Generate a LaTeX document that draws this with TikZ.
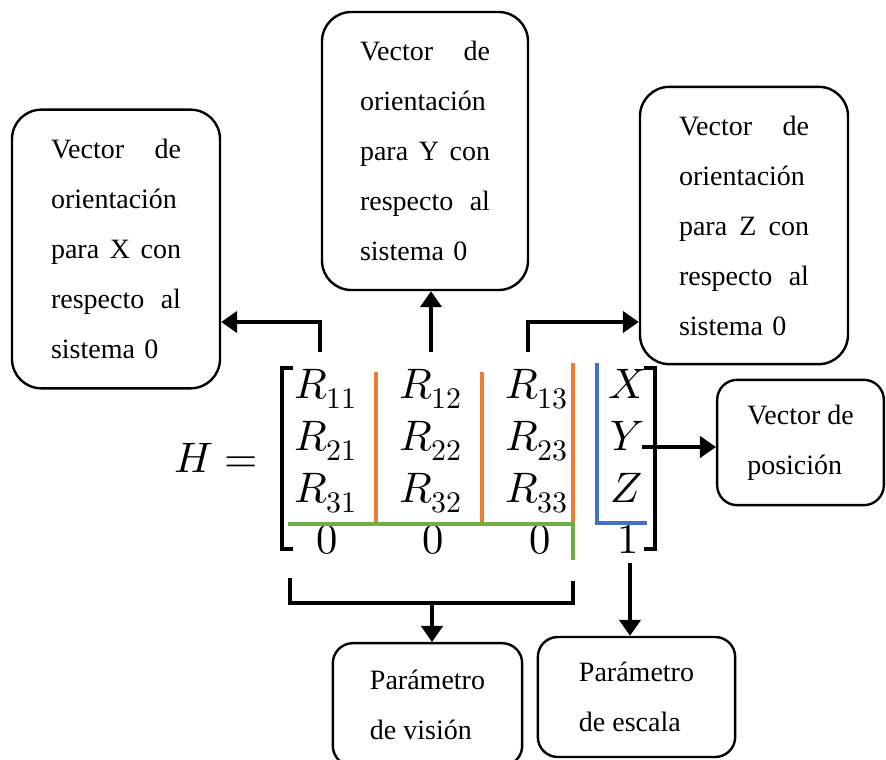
\documentclass[tikz,border=0pt]{standalone}
\usepackage{unicode-math}
\setmainfont{Liberation Serif}
\setmathfont{latinmodern-math.otf}
\usepackage{tikz}
\usetikzlibrary{arrows.meta, positioning, calc}
\definecolor{sepor}{HTML}{ED7D31}
\definecolor{sepgr}{HTML}{70AD47}
\definecolor{sepbl}{HTML}{4472C4}
\newcommand\boxfont{\fontsize{21}{37.5}\selectfont}
\newcommand\matfont{\fontsize{32}{36}\selectfont}
\tikzset{
  >=Latex,
  infobox/.style={
    draw, line width=1.8pt, rounded corners=#1, align=left,
    inner sep=0pt, font=\boxfont
  },
  infobox/.default=22pt,
  entry/.style={anchor=base, inner sep=0pt, font=\matfont},
  arr/.style={-{Triangle[length=12pt,width=16pt]}, line width=2.6pt},
  brk/.style={line width=2.4pt},
  sepline/.style={line width=2.8pt, draw=#1}
}

\begin{document}
\begin{tikzpicture}[x=0.75pt,y=-0.75pt]
  \useasboundingbox (0,0) rectangle (886,760);

  % cajas de texto
  \node[infobox, minimum width=156pt, minimum height=209pt, text width=97.5pt] (vecX) at (116,249)
    {Vector\hfill de\\ orientación\\ para\hfill X\hfill con\\ respecto\hfill al\\ sistema 0};
  \node[infobox, minimum width=154.5pt, minimum height=208.5pt, text width=97.5pt] (vecY) at (425,151)
    {Vector\hfill de\\ orientación\\ para\hfill Y\hfill con\\ respecto\hfill al\\ sistema 0};
  \node[infobox, minimum width=156pt, minimum height=208pt, text width=97.5pt] (vecZ) at (744,225.5)
    {Vector\hfill de\\ orientación\\ para\hfill Z\hfill con\\ respecto\hfill al\\ sistema 0};
  \node[infobox=15pt, minimum width=125pt, minimum height=94pt] (vecP) at (800.5,442.5)
    {Vector de\\ posición};
  \node[infobox=15pt, minimum width=142pt, minimum height=92pt] (parV) at (427.5,704.5)
    {Parámetro\\ de visión};
  \node[infobox=15pt, minimum width=148pt, minimum height=90pt] (parE) at (636.5,697)
    {Parámetro\\ de escala};

  % matriz H
  \node[entry] (lhs) at (216,472) {$H =$};
  \node[entry] (r11) at (326,398) {$R_{11}$};
  \node[entry] (r12) at (431,398) {$R_{12}$};
  \node[entry] (r13) at (537,398) {$R_{13}$};
  \node[entry] (px)  at (627,398) {$X$};
  \node[entry] (r21) at (326,450) {$R_{21}$};
  \node[entry] (r22) at (431,450) {$R_{22}$};
  \node[entry] (r23) at (537,450) {$R_{23}$};
  \node[entry] (py)  at (627,450) {$Y$};
  \node[entry] (r31) at (326,502) {$R_{31}$};
  \node[entry] (r32) at (431,502) {$R_{32}$};
  \node[entry] (r33) at (537,502) {$R_{33}$};
  \node[entry] (pz)  at (627,502) {$Z$};
  \node[entry] (z1)  at (327,553) {$0$};
  \node[entry] (z2)  at (433,553) {$0$};
  \node[entry] (z3)  at (540,553) {$0$};
  \node[entry] (one) at (628,553) {$1$};

  \draw[brk] (293,368) -- (282,368) -- (282,549) -- (293,549);
  \draw[brk] (644,368) -- (655,368) -- (655,549) -- (644,549);

  % separadores de color
  \draw[sepline=sepor] (376,372) -- (376,522);
  \draw[sepline=sepor] (482,372) -- (482,522);
  \draw[sepline=sepor] (573,363) -- (573,524);
  \draw[sepline=sepgr] (288,524) -- (573,524) -- (573,560);
  \draw[sepline=sepbl] (597,363) -- (597,523) -- (647,523);

  % flechas
  \coordinate (c1) at (320,352);
  \coordinate (c2) at (431,352);
  \coordinate (c3) at (528,352);
  \coordinate (yout) at (642,447);
  \coordinate (vdown) at (432,603);
  \coordinate (sdown) at (630,563);
  \draw[arr] (c1) |- (vecX.east |- 0,322);
  \draw[arr] (c2) -- (c2 |- vecY.south);
  \draw[arr] (c3) |- (vecZ.west |- 0,322);
  \draw[arr] (yout) -- (vecP.west |- yout);
  \draw[brk] (290,578) |- (573,603) -- (573,581);
  \draw[arr] (vdown) -- (vdown |- parV.north);
  \draw[arr] (sdown) -- (sdown |- parE.north);
\end{tikzpicture}
\end{document}
